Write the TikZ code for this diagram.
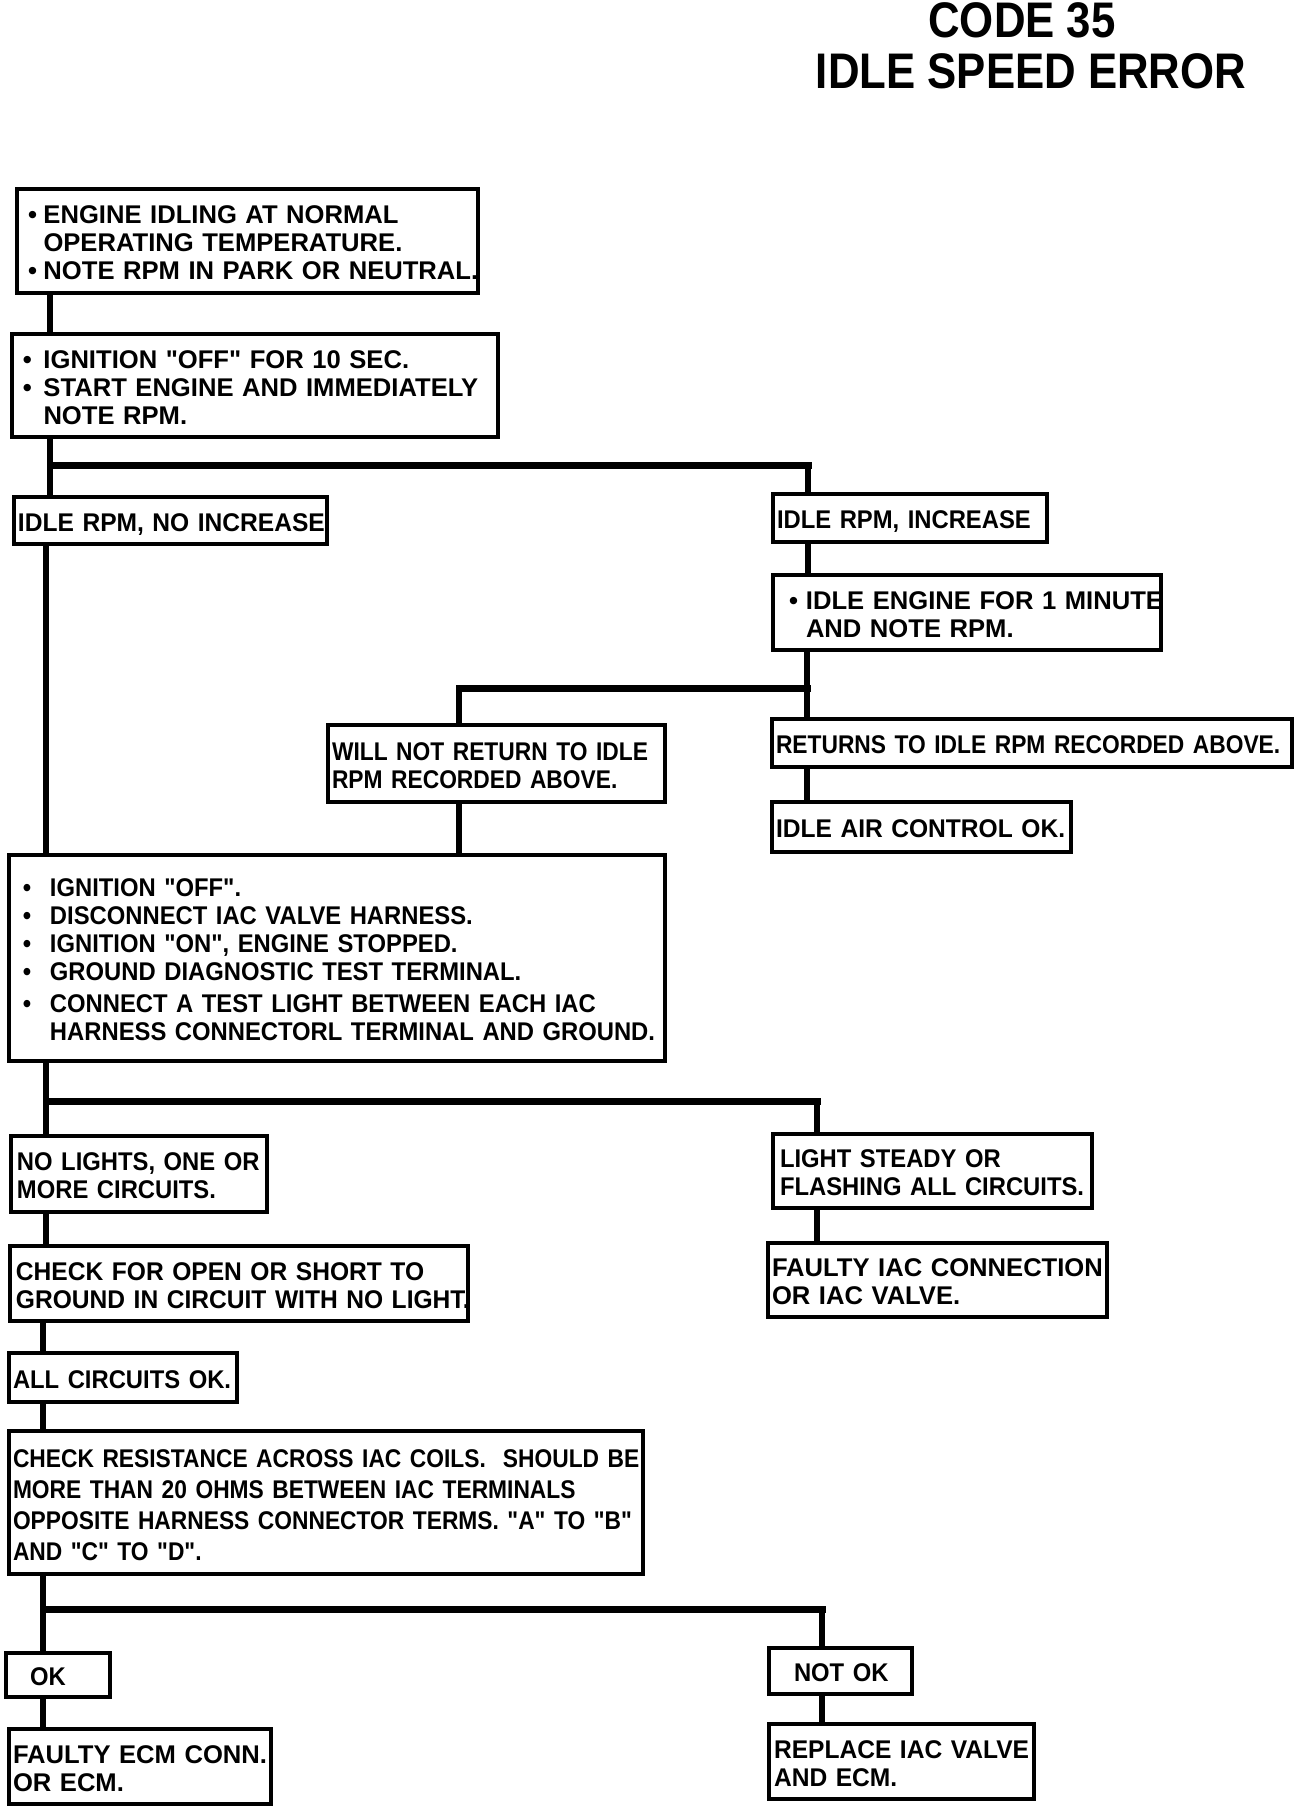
\documentclass[tikz,border=0pt]{standalone}
\usepackage{fontspec}
\newfontfamily\widebold{Liberation Sans Bold}
\newfontfamily\midbold{Liberation Sans Bold}[FakeStretch=0.96]
\newfontfamily\narrowbold{Liberation Sans Bold}[FakeStretch=0.93]
\newfontfamily\slimbold{Liberation Sans Bold}[FakeStretch=0.89]
\newfontfamily\titlebold{Liberation Sans Bold}[FakeStretch=0.875]
\newcommand{\rows}[1]{\raisebox{-2.5pt}[\height][\depth]{\begin{tabular}{@{}l@{}}#1\end{tabular}}}
\newcommand{\bul}[2]{\hspace*{#1}\makebox[#2][l]{\textbullet}}

\begin{document}
\begin{tikzpicture}[
    x=0.5pt, y=-0.5pt,
    box/.style={draw, line width=2pt, anchor=north west, inner xsep=2pt, inner ysep=0pt, align=left,
      font=\narrowbold\fontsize{12.8}{14}\selectfont},
    widebox/.style={box, font=\widebold\fontsize{12.8}{14}\selectfont},
    midbox/.style={box, font=\midbold\fontsize{12.8}{14}\selectfont},
    slimbox/.style={box, font=\slimbold\fontsize{12.8}{14}\selectfont},
    heading/.style={anchor=base, inner sep=0pt, font=\titlebold\fontsize{25}{28}\selectfont},
    link/.style={line width=3pt},
    bar/.style={line width=3.5pt, line cap=rect}
  ]
    \useasboundingbox (0,0) rectangle (1312,1808);
    % title
    \node[heading] (code) at (1022,38) {CODE 35};
    \node[heading] (error) at (1031,89) {IDLE SPEED ERROR};
    % boxes
    \node[widebox, text width=226.5pt, minimum height=52pt] (idling) at (15,187)
      {\rows{\bul{3.5pt}{7.75pt}ENGINE IDLING AT NORMAL\\\hspace*{11.25pt}OPERATING TEMPERATURE.\\\bul{3.5pt}{7.75pt}NOTE RPM IN PARK OR NEUTRAL.}};
    \node[widebox, text width=239pt, minimum height=51.5pt] (restart) at (10,332)
      {\rows{\bul{3.5pt}{10.25pt}IGNITION "OFF" FOR 10 SEC.\\\bul{3.5pt}{10.25pt}START ENGINE AND IMMEDIATELY\\\hspace*{13.75pt}NOTE RPM.}};
    \node[midbox, text width=152.5pt, minimum height=23.5pt] (noinc) at (12,495) {\rows{IDLE RPM, NO INCREASE}};
    \node[box, text width=133pt, minimum height=24pt] (inc) at (771,492) {\rows{IDLE RPM, INCREASE}};
    \node[widebox, text width=190pt, minimum height=37.5pt] (oneminute) at (771,573)
      {\rows{\bul{6pt}{8.5pt}IDLE ENGINE FOR 1 MINUTE\\\hspace*{14.5pt}AND NOTE RPM.}};
    \node[slimbox, text width=164.5pt, minimum height=38.5pt] (noreturn) at (326,723)
      {\rows{WILL NOT RETURN TO IDLE\\RPM RECORDED ABOVE.}};
    \node[slimbox, text width=256pt, minimum height=24pt] (returns) at (770,717) {\rows{RETURNS TO IDLE RPM RECORDED ABOVE.}};
    \node[midbox, text width=145.5pt, minimum height=25pt] (iacok) at (770,800) {\rows{IDLE AIR CONTROL OK.}};
    \node[box, text width=324pt, minimum height=103pt] (testlight) at (7,853)
      {\rows{\bul{5pt}{13.5pt}IGNITION "OFF".\\
             \bul{5pt}{13.5pt}DISCONNECT IAC VALVE HARNESS.\\
             \bul{5pt}{13.5pt}IGNITION "ON", ENGINE STOPPED.\\
             \bul{5pt}{13.5pt}GROUND DIAGNOSTIC TEST TERMINAL.\\[2pt]
             \bul{5pt}{13.5pt}CONNECT A TEST LIGHT BETWEEN EACH IAC\\
             \hspace*{18.5pt}HARNESS CONNECTORL TERMINAL AND GROUND.}};
    \node[box, text width=124pt, minimum height=38pt] (nolights) at (9,1134)
      {\rows{\hspace*{1pt}NO LIGHTS, ONE OR\\\hspace*{1pt}MORE CIRCUITS.}};
    \node[box, text width=155.5pt, minimum height=37pt] (steady) at (771,1132)
      {\rows{\hspace*{1.5pt}LIGHT STEADY OR\\\hspace*{1.5pt}FLASHING ALL CIRCUITS.}};
    \node[midbox, text width=225pt, minimum height=37.5pt] (openshort) at (8,1244)
      {\rows{\hspace*{1pt}CHECK FOR OPEN OR SHORT TO\\\hspace*{1pt}GROUND IN CIRCUIT WITH NO LIGHT.}};
    \node[widebox, text width=165.5pt, minimum height=37pt] (faultyiac) at (766,1241)
      {\rows{FAULTY IAC CONNECTION\\OR IAC VALVE.}};
    \node[box, text width=110pt, minimum height=24.5pt] (allok) at (7,1351) {\rows{ALL CIRCUITS OK.}};
    \node[slimbox, text width=313pt, minimum height=71.5pt, font=\slimbold\fontsize{12.8}{15.5}\selectfont] (resistance) at (7,1429)
      {\rows{CHECK RESISTANCE ACROSS IAC COILS.\ \ SHOULD BE\\
             MORE THAN 20 OHMS BETWEEN IAC TERMINALS\\
             OPPOSITE HARNESS CONNECTOR TERMS. "A" TO "B"\\
             AND "C" TO "D".}};
    \node[box, text width=48pt, minimum height=22pt] (ok) at (4,1651) {\rows{\hspace*{10pt}OK}};
    \node[box, text width=67.5pt, minimum height=23pt] (notok) at (767,1646) {\rows{\hspace*{10.5pt}NOT OK}};
    \node[widebox, text width=127pt, minimum height=37.5pt] (faultyecm) at (7,1727)
      {\rows{FAULTY ECM CONN.\\OR ECM.}};
    \node[midbox, text width=128.5pt, minimum height=37.5pt] (replace) at (767,1722)
      {\rows{\hspace*{0.5pt}REPLACE IAC VALVE\\\hspace*{0.5pt}AND ECM.}};
    % junctions
    \coordinate (split1) at (50,465);
    \coordinate (split1r) at (808,465);
    \coordinate (split2) at (807,688);
    \coordinate (split2l) at (459,688);
    \coordinate (split3) at (46,1101);
    \coordinate (split3r) at (817,1101);
    \coordinate (split4) at (43,1609);
    \coordinate (split4r) at (822,1609);
    % connectors
    \draw[link] (idling.south -| split1) -- (restart.north -| split1);
    \draw[link] (restart.south -| split1) -- (noinc.north -| split1);
    \draw[bar] (split1) -- (split1r);
    \draw[link] (split1r) -- (inc.north -| split1r);
    \draw[link] (inc.south -| split1r) -- (oneminute.north -| split1r);
    \draw[link] (oneminute.south -| split2) -- (returns.north -| split2);
    \draw[bar] (split2) -- (split2l);
    \draw[link] (split2l) -- (noreturn.north -| split2l);
    \draw[link] (returns.south -| split2) -- (iacok.north -| split2);
    \draw[link] (noinc.south -| split3) -- (testlight.north -| split3);
    \draw[link] (noreturn.south -| split2l) -- (testlight.north -| split2l);
    \draw[link] (testlight.south -| split3) -- (nolights.north -| split3);
    \draw[bar] (split3) -- (split3r);
    \draw[link] (split3r) -- (steady.north -| split3r);
    \draw[link] (nolights.south -| split3) -- (openshort.north -| split3);
    \draw[link] (steady.south -| split3r) -- (faultyiac.north -| split3r);
    \draw[link] (openshort.south -| split4) -- (allok.north -| split4);
    \draw[link] (allok.south -| split4) -- (resistance.north -| split4);
    \draw[link] (resistance.south -| split4) -- (ok.north -| split4);
    \draw[bar] (split4) -- (split4r);
    \draw[link] (split4r) -- (notok.north -| split4r);
    \draw[link] (ok.south -| split4) -- (faultyecm.north -| split4);
    \draw[link] (notok.south -| split4r) -- (replace.north -| split4r);
\end{tikzpicture}
\end{document}
